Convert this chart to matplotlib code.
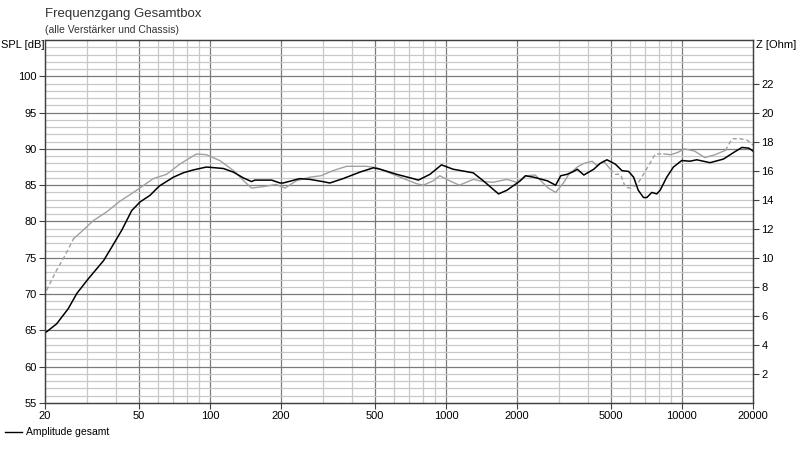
import numpy as np
import matplotlib
matplotlib.use("Agg")
import matplotlib.pyplot as plt
from matplotlib.ticker import FixedLocator, NullFormatter

plt.rcParams['font.family'] = ['Liberation Sans', 'DejaVu Sans']

# black curve: Amplitude gesamt
freq_total = [20.3, 22.4, 25.1, 27.3, 30.5, 35.4, 38.4, 42.3, 46.6, 50.6, 55.7, 61.1,
              70, 77, 85, 96.6, 114, 125.7, 138.6, 150, 155, 182.5, 198, 204, 240,
              265, 300, 322, 366, 432, 493, 526, 618, 727, 764, 856, 957, 1072,
              1305, 1440, 1670, 1812, 2065, 2170, 2355, 2690, 2915, 3065, 3260,
              3480, 3600, 3840, 4230, 4500, 4810, 5220, 5570, 5940, 6240, 6530,
              6870, 7100, 7450, 7820, 8080, 8620, 9200, 9980, 10800, 11550, 13150,
              15000, 16550, 17950, 19200, 20000]
spl_total = [64.8, 65.9, 68.0, 70.1, 72.1, 74.6, 76.5, 78.8, 81.5, 82.7, 83.6, 84.9,
             86.1, 86.7, 87.1, 87.5, 87.3, 86.8, 86.0, 85.5, 85.7, 85.7, 85.3, 85.3, 85.9,
             85.8, 85.5, 85.3, 85.9, 86.8, 87.4, 87.2, 86.5, 85.9, 85.7, 86.5, 87.8, 87.2,
             86.7, 85.6, 83.8, 84.3, 85.6, 86.3, 86.1, 85.6, 85.0, 86.3, 86.5,
             86.9, 87.2, 86.4, 87.2, 88.0, 88.5, 87.9, 87.0, 86.9, 86.1, 84.3,
             83.3, 83.3, 84.0, 83.8, 84.3, 86.1, 87.5, 88.4, 88.3, 88.5, 88.1,
             88.6, 89.5, 90.2, 90.1, 89.7]

# grey curve (second response, partly dashed)
freq_grey = [20.3, 22.4, 24.3, 26.4, 29.0, 32.0, 36.4, 41.6, 48.9, 57.5, 65.5, 74.5,
             87.6, 96.6, 110, 126, 139, 150, 168, 191, 208, 232, 265, 295, 332,
             379, 461, 509, 618, 751, 802, 883, 942, 1037, 1140, 1305, 1440, 1585,
             1812, 1995, 2195, 2390, 2690, 2915, 3160, 3315, 3600, 3840, 4160,
             4370, 4660, 4970, 5220, 5490, 5760, 6040, 6430, 6870, 7340, 7720,
             8390, 8960, 9580, 10240, 11310, 12500, 13800, 15280, 16300, 17650,
             18900, 20000]
spl_grey = [70.5, 73.3, 75.3, 77.6, 78.8, 80.1, 81.3, 82.8, 84.3, 85.9, 86.5, 87.9,
            89.3, 89.2, 88.4, 87.0, 85.6, 84.6, 84.8, 85.1, 84.6, 85.6, 86.1, 86.3, 87.0,
            87.6, 87.6, 87.4, 86.3, 85.2, 85.0, 85.6, 86.3, 85.6, 85.0, 85.8, 85.5, 85.4,
            85.8, 85.4, 86.3, 86.4, 84.7, 84.0, 85.4, 86.5, 87.5, 88.0, 88.3,
            87.7, 88.3, 87.2, 86.5, 86.5, 84.7, 84.6, 85.0, 86.5, 88.1, 89.3,
            89.3, 89.2, 89.5, 90.0, 89.7, 88.8, 89.2, 89.8, 91.4, 91.4,
            91.2, 90.5]
# frequency ranges where the grey curve is dashed
dashed_ranges = [(20, 26.4), (4970, 8390), (15280, 20000)]

x_ticks = [20, 50, 100, 200, 500, 1000, 2000, 5000, 10000, 20000]
spl_ticks = [55, 60, 65, 70, 75, 80, 85, 90, 95, 100]
z_ticks = [2, 4, 6, 8, 10, 12, 14, 16, 18, 20, 22]

fig = plt.figure(figsize=(8, 4.66), dpi=100)
ax = fig.add_axes([0.05625, 0.1352, 0.885, 0.7790])
ax.set_xscale('log')
ax.set_xlim(20, 20000)
ax.set_ylim(55, 105)

# grid
minor_x = [m * 10 ** d for d in range(1, 5) for m in (3, 4, 6, 7, 8, 9)]
minor_x = [v for v in minor_x if 20 < v < 20000]
for v in minor_x:
    ax.axvline(v, color='#c8c8c8', lw=0.9, zorder=0)
for v in x_ticks[1:-1]:
    ax.axvline(v, color='#7a7a7a', lw=0.9, zorder=0)
for v in range(56, 105):
    if v % 5:
        ax.axhline(v, color='#c8c8c8', lw=0.9, zorder=0)
    else:
        ax.axhline(v, color='#7a7a7a', lw=0.9, zorder=0)

# grey curve, solid and dashed pieces
fg = np.array(freq_grey)
sg = np.array(spl_grey)
edges = sorted(set([20, 20000] + [e for r in dashed_ranges for e in r]))
for a, b in zip(edges[:-1], edges[1:]):
    m = (fg >= a) & (fg <= b)
    dashed = any(a >= r[0] and b <= r[1] for r in dashed_ranges)
    ax.plot(fg[m], sg[m], color='#a0a0a0', lw=1.0,
            ls=(0, (3, 2)) if dashed else '-', zorder=2)

ax.plot(freq_total, spl_total, color='black', lw=1.1, zorder=3)

ax.xaxis.set_major_locator(FixedLocator(x_ticks))
ax.xaxis.set_minor_formatter(NullFormatter())
ax.xaxis.set_minor_locator(FixedLocator([]))
ax.set_xticklabels([str(v) for v in x_ticks])
ax.set_yticks(spl_ticks)
ax.tick_params(axis='both', labelsize=8, length=4, width=0.8, color='#404040', pad=2)

for s in ax.spines.values():
    s.set_color('#404040')
    s.set_linewidth(0.9)

ax2 = ax.twinx()
ax2.set_ylim(0, 25)
ax2.set_yticks(z_ticks)
ax2.tick_params(axis='y', labelsize=8, length=4, width=0.8, color='#404040', pad=2)
for s in ax2.spines.values():
    s.set_color('#404040')
    s.set_linewidth(0.9)

fig.text(45 / 800, 1 - 14 / 466, 'Frequenzgang Gesamtbox', fontsize=9.5,
         color='#333333', va='center', ha='left')
fig.text(45 / 800, 1 - 30 / 466, '(alle Verstärker und Chassis)', fontsize=7.5,
         color='#333333', va='center', ha='left')
fig.text(1 / 800, 1 - 45 / 466, 'SPL [dB]', fontsize=8, va='center', ha='left')
fig.text(756 / 800, 1 - 45 / 466, 'Z [Ohm]', fontsize=8, va='center', ha='left')

# legend
fig.add_artist(plt.Line2D([5 / 800, 22 / 800], [1 - 432 / 466, 1 - 432 / 466],
                          color='black', lw=1.0))
fig.text(26 / 800, 1 - 432 / 466, 'Amplitude gesamt', fontsize=7.5,
         va='center', ha='left')

fig.savefig('out.png', dpi=100)
